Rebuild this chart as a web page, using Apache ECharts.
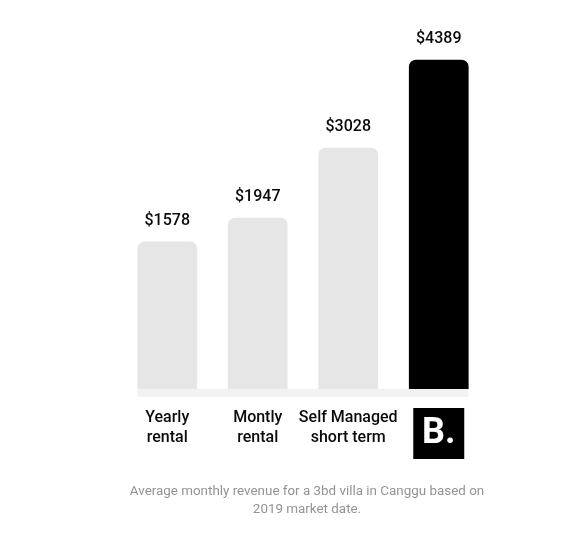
<!DOCTYPE html>
<html>
<head>
<meta charset="utf-8">
<script src="https://cdn.jsdelivr.net/npm/echarts@6/dist/echarts.min.js"></script>
<style>html,body{margin:0;padding:0;background:#fff}#c{width:576px;height:536px}</style>
</head>
<body>
<div id="c"></div>
<script>
const categories = ['Yearly\nrental', 'Montly\nrental', 'Self Managed\nshort term', 'B.'];
const revenue = [1578, 1947, 3028, 4389];
const barColors = ['#e6e6e6', '#e6e6e6', '#e6e6e6', '#000000'];
const caption = 'Average monthly revenue for a 3bd villa in Canggu based on\n2019 market date.';
const axisMin = -700;
const axisMax = 4400;

const chart = echarts.init(document.getElementById('c'), null, {renderer: 'canvas'});
const data = revenue.map((v, i) => [i, v]);

chart.setOption({
  backgroundColor: '#ffffff',
  animation: false,
  title: {
    text: caption,
    left: 302,
    top: 478,
    textAlign: 'center',
    textStyle: {
      fontFamily: 'Roboto', fontSize: 13.4, fontWeight: 'normal',
      color: '#939393', lineHeight: 18
    }
  },
  grid: {left: 122, right: 92, top: 59, bottom: 147},
  xAxis: {
    type: 'category',
    data: categories,
    axisLine: {show: false},
    axisTick: {show: false},
    axisLabel: {
      margin: 19,
      interval: 0,
      fontFamily: 'Roboto',
      fontSize: 16,
      fontWeight: 500,
      color: '#0a0a0a',
      lineHeight: 20,
      formatter: function (val, idx) {
        return idx === 3 ? '{logo|' + val + '}' : val;
      },
      rich: {
        logo: {
          backgroundColor: '#000000', color: '#ffffff',
          fontFamily: 'Roboto', fontWeight: 'bold', fontSize: 36,
          width: 51, height: 51, lineHeight: 51, align: 'center', padding: [0, 0, 0, 0]
        }
      }
    }
  },
  yAxis: {
    type: 'value', min: axisMin, max: axisMax, show: false,
    splitLine: {show: false}
  },
  series: [{
    type: 'custom',
    data: data,
    renderItem: function (params, api) {
      const idx = api.value(0);
      const val = api.value(1);
      const top = api.coord([idx, val]);
      const base = api.coord([idx, axisMin]);
      const w = api.size([1, 0])[0] * 0.66;
      const children = [];
      if (params.dataIndex === 0) {
        const last = api.coord([revenue.length - 1, axisMin]);
        children.push({
          type: 'rect',
          shape: {x: base[0] - w / 2, y: base[1], width: (last[0] + w / 2) - (base[0] - w / 2), height: 8},
          style: {fill: '#f2f2f2'}
        });
      }
      children.push({
        type: 'rect',
        shape: {x: top[0] - w / 2, y: top[1], width: w, height: base[1] - top[1], r: [7, 7, 0, 0]},
        style: {fill: barColors[params.dataIndex]}
      });
      children.push({
        type: 'text',
        style: {
          text: '$' + val,
          x: top[0], y: top[1] - 13,
          align: 'center', verticalAlign: 'bottom',
          font: '500 16px Roboto', fill: '#0a0a0a'
        }
      });
      return {type: 'group', children: children};
    }
  }]
});
</script>
</body>
</html>
